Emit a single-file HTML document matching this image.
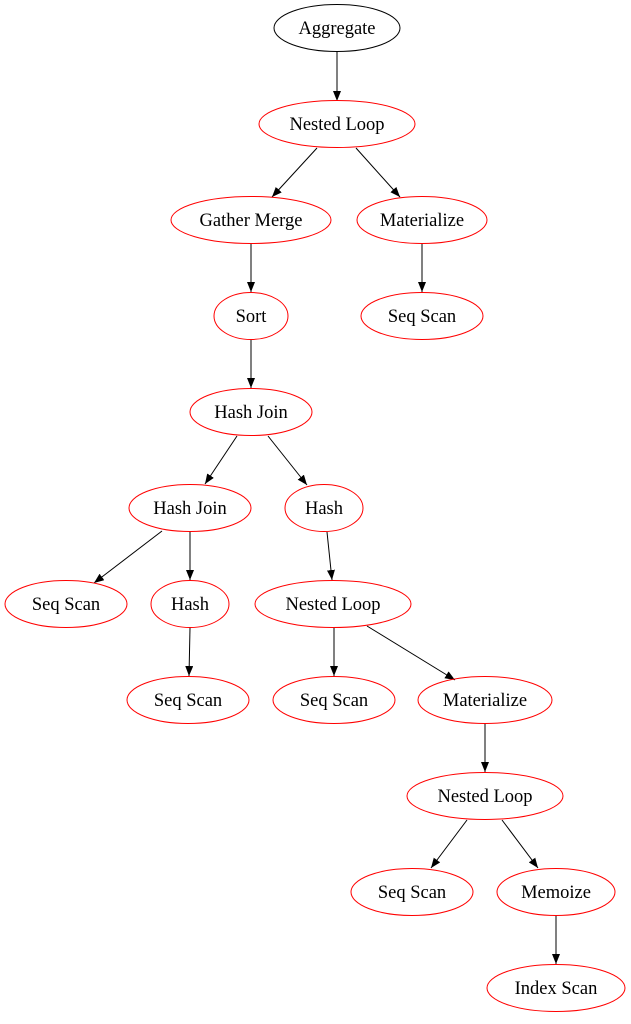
<!DOCTYPE html>
<html><head><meta charset="utf-8"><style>html,body{margin:0;padding:0;background:#fff}</style></head>
<body>
<svg width="631" height="1019" viewBox="0 0 631 1019" xmlns="http://www.w3.org/2000/svg">
<defs>
<marker id="a" markerWidth="10" markerHeight="8" refX="10" refY="4" orient="auto" markerUnits="userSpaceOnUse">
<path d="M0,0 L10,4 L0,8 Z" fill="#000"/>
</marker>
</defs>
<g stroke="#000" stroke-width="1" fill="none" marker-end="url(#a)">
<line x1="337" y1="52" x2="337" y2="101"/>
<line x1="317" y1="148" x2="272" y2="197"/>
<line x1="356" y1="148" x2="400" y2="197"/>
<line x1="251" y1="244" x2="251" y2="292"/>
<line x1="422" y1="244" x2="422" y2="292"/>
<line x1="251" y1="340" x2="251" y2="388"/>
<line x1="237" y1="436" x2="205" y2="484"/>
<line x1="268" y1="436" x2="307" y2="485"/>
<line x1="162" y1="531" x2="94" y2="583"/>
<line x1="190" y1="532" x2="190" y2="580"/>
<line x1="327" y1="532" x2="332" y2="580"/>
<line x1="190" y1="628" x2="189" y2="676"/>
<line x1="334" y1="628" x2="334" y2="676"/>
<line x1="367" y1="626" x2="455" y2="680"/>
<line x1="485" y1="724" x2="485" y2="772"/>
<line x1="467" y1="820" x2="431" y2="868"/>
<line x1="502" y1="820" x2="538" y2="868"/>
<line x1="556" y1="916" x2="556" y2="964"/>
</g>
<g fill="none" stroke="red" stroke-width="1">
<ellipse cx="337" cy="28" rx="63" ry="23.5" stroke="#000"/>
<ellipse cx="337" cy="124" rx="78" ry="23.5"/>
<ellipse cx="251" cy="220" rx="80" ry="23.5"/>
<ellipse cx="422" cy="220" rx="65" ry="23.5"/>
<ellipse cx="251" cy="316" rx="37" ry="23.5"/>
<ellipse cx="422" cy="316" rx="61" ry="23.5"/>
<ellipse cx="251" cy="412" rx="61" ry="23.5"/>
<ellipse cx="190" cy="508" rx="61" ry="23.5"/>
<ellipse cx="324" cy="508" rx="39" ry="23.5"/>
<ellipse cx="66" cy="604" rx="61" ry="23.5"/>
<ellipse cx="190" cy="604" rx="39" ry="23.5"/>
<ellipse cx="333" cy="604" rx="78" ry="23.5"/>
<ellipse cx="188" cy="700" rx="61" ry="23.5"/>
<ellipse cx="334" cy="700" rx="61" ry="23.5"/>
<ellipse cx="485" cy="700" rx="67" ry="23.5"/>
<ellipse cx="485" cy="796" rx="78" ry="23.5"/>
<ellipse cx="412" cy="892" rx="61" ry="23.5"/>
<ellipse cx="556" cy="892" rx="59" ry="23.5"/>
<ellipse cx="556" cy="988" rx="69" ry="23.5"/>
</g>
<g font-family="Liberation Serif, serif" font-size="18.5" text-anchor="middle" fill="#000">
<text x="337" y="34">Aggregate</text>
<text x="337" y="130">Nested Loop</text>
<text x="251" y="226">Gather Merge</text>
<text x="422" y="226">Materialize</text>
<text x="251" y="322">Sort</text>
<text x="422" y="322">Seq Scan</text>
<text x="251" y="418">Hash Join</text>
<text x="190" y="514">Hash Join</text>
<text x="324" y="514">Hash</text>
<text x="66" y="610">Seq Scan</text>
<text x="190" y="610">Hash</text>
<text x="333" y="610">Nested Loop</text>
<text x="188" y="706">Seq Scan</text>
<text x="334" y="706">Seq Scan</text>
<text x="485" y="706">Materialize</text>
<text x="485" y="802">Nested Loop</text>
<text x="412" y="898">Seq Scan</text>
<text x="556" y="898">Memoize</text>
<text x="556" y="994">Index Scan</text>
</g>
</svg>
</body></html>
